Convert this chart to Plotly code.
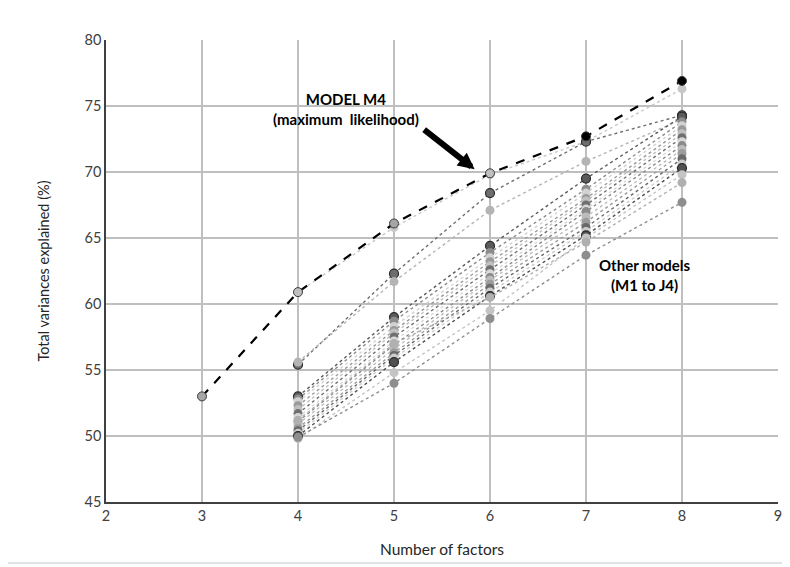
import plotly.graph_objects as go

# ---------------- data ----------------
factors_m4 = [3, 4, 5, 6, 7, 8]
m4_values = [53.0, 60.9, 66.1, 69.9, 72.7, 76.9]

factors_other = [4, 5, 6, 7, 8]
other_values = [
    [60.9, 65.8, 69.8, 72.3, 76.3],
    [55.4, 62.3, 68.4, 72.3, 74.3],
    [55.6, 61.7, 67.1, 70.8, 74.0],
    [53.0, 59.0, 64.4, 69.5, 74.2],
    [52.8, 58.7, 63.9, 68.7, 73.8],
    [52.6, 58.3, 63.5, 68.4, 73.5],
    [52.3, 58.0, 63.2, 68.0, 73.2],
    [52.0, 57.8, 62.9, 67.8, 72.9],
    [51.7, 57.5, 62.6, 67.5, 72.6],
    [51.4, 57.2, 62.3, 67.2, 72.3],
    [51.1, 56.9, 62.0, 67.0, 72.0],
    [50.9, 56.6, 61.8, 66.6, 71.7],
    [50.6, 56.3, 61.5, 66.2, 71.4],
    [50.4, 56.1, 61.2, 65.8, 71.0],
    [50.2, 55.9, 60.9, 65.5, 70.6],
    [50.0, 55.6, 60.6, 65.2, 70.3],
    [49.8, 54.8, 59.5, 65.0, 69.8],
    [49.9, 54.0, 58.9, 63.7, 67.7],
    [51.2, 57.0, 60.5, 64.7, 69.2],
]
other_colors = [
    "#c8c8c8", "#6e6e6e", "#b4b4b4", "#5a5a5a", "#8c8c8c", "#d2d2d2", "#9a9a9a",
    "#c0c0c0", "#707070", "#d8d8d8", "#8a8a8a", "#bcbcbc", "#9c9c9c", "#6a6a6a",
    "#cccccc", "#505050", "#c4c4c4", "#8e8e8e", "#b0b0b0",
]
other_outline = [False, True, False, True, False, False, False, False, False, False,
                 False, False, False, False, False, True, False, False, False]

m4_marker_colors = ["#a6a6a6", "#bfbfbf", "#a6a6a6", "#bfbfbf", "#000000", "#000000"]

x_ticks = [2, 3, 4, 5, 6, 7, 8, 9]
y_ticks = [45, 50, 55, 60, 65, 70, 75, 80]

FONT = "Lato, 'Open Sans', sans-serif"

fig = go.Figure()

for vals, col, outl in zip(other_values, other_colors, other_outline):
    fig.add_trace(go.Scatter(
        x=factors_other, y=vals, mode="lines+markers",
        line=dict(color=col, width=1.4, dash="dot"),
        marker=dict(size=9, color=col,
                    line=dict(color="#2a2a2a" if outl else col, width=1.2 if outl else 0)),
        showlegend=False, hoverinfo="x+y",
    ))

fig.add_trace(go.Scatter(
    x=factors_m4, y=m4_values, mode="lines+markers",
    line=dict(color="#000000", width=2.2, dash="dash"),
    marker=dict(size=9, color=m4_marker_colors, line=dict(color="#3a3a3a", width=1)),
    showlegend=False,
))

fig.add_annotation(
    x=5.84, y=70.2, xref="x", yref="y",
    ax=-52, ay=-41, axref="pixel", ayref="pixel",
    showarrow=True, arrowhead=2, arrowwidth=6, arrowsize=0.55, arrowcolor="#000000",
    text="",
)
fig.add_annotation(
    x=4.5, y=74.8, xref="x", yref="y", showarrow=False,
    text="<b>MODEL M4</b><br><b>(maximum  likelihood)</b>",
    font=dict(family=FONT, size=15, color="#000000"), align="center",
)
fig.add_annotation(
    x=7.61, y=62.2, xref="x", yref="y", showarrow=False,
    text="<b>Other models</b><br><b>(M1 to J4)</b>",
    font=dict(family=FONT, size=15, color="#000000"), align="center",
)

# outer chart border (right and bottom edges; the page offset hides the rest)
fig.add_shape(type="line", xref="paper", yref="paper",
              x0=1.0119, x1=1.0119, y0=-0.132, y1=1.1,
              line=dict(color="#d9d9d9", width=1.5), layer="below")
fig.add_shape(type="line", xref="paper", yref="paper",
              x0=-0.2, x1=1.0119, y0=-0.132, y1=-0.132,
              line=dict(color="#d9d9d9", width=1.5), layer="below")

fig.update_layout(
    width=782, height=559,
    margin=dict(l=98, r=12, t=32, b=65),
    paper_bgcolor="white", plot_bgcolor="white",
    font=dict(family=FONT, size=14, color="#404040"),
)
fig.update_xaxes(
    range=[2, 9], tickvals=x_ticks, ticktext=[str(v) for v in x_ticks],
    showgrid=True, gridcolor="#bfbfbf", gridwidth=1.5,
    showline=True, linecolor="#404040", linewidth=1.5, mirror=False,
    zeroline=False, ticks="", ticklen=0, automargin=False,
    title=dict(text="Number of factors", font=dict(size=15.5, color="#262626"), standoff=21),
    tickfont=dict(size=14.5, color="#404040"),
)
fig.update_yaxes(
    range=[45, 80], tickvals=y_ticks, ticktext=[str(v) for v in y_ticks],
    showgrid=True, gridcolor="#bfbfbf", gridwidth=1.5,
    showline=True, linecolor="#404040", linewidth=1.5,
    zeroline=False, ticks="", ticklen=0, automargin=False,
    title=dict(text="Total variances explained (%)", font=dict(size=14.5, color="#262626"), standoff=31),
    tickfont=dict(size=14.5, color="#404040"),
)

fig.write_html("out.html")
